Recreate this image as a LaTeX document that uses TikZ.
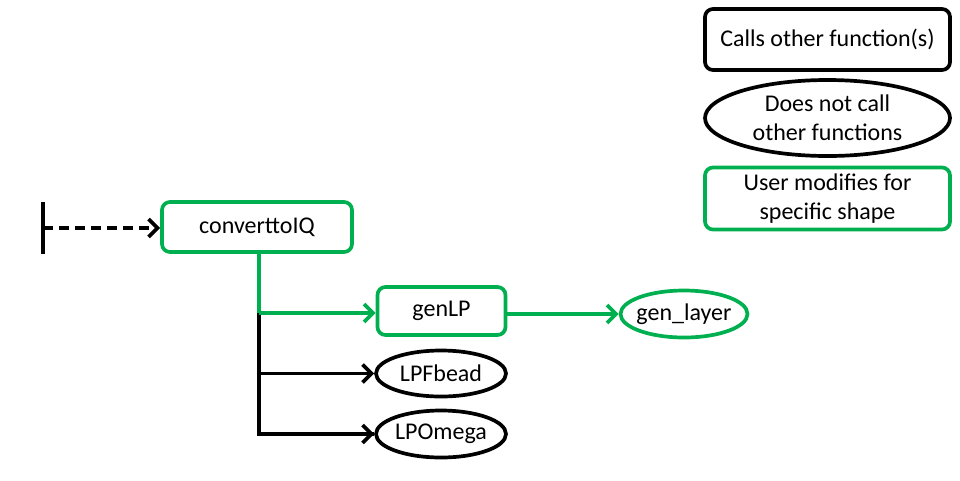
\documentclass[tikz,border=0pt]{standalone}
\usepackage{fontspec}
\setmainfont{Carlito}
\usetikzlibrary{arrows.meta,shapes.geometric}
\definecolor{ogreen}{RGB}{0,176,80}
\begin{document}
\begin{tikzpicture}[x=1pt,y=-1pt,
  font=\fontsize{24}{29}\selectfont,
  lw/.style={line width=3.7pt},
  fbox/.style={draw,lw,rounded corners=8pt,align=center,inner sep=0pt},
  fell/.style={draw,lw,ellipse,inner sep=0pt,label={[align=center,inner sep=0pt]center:#1}},
  tip/.style={-{Straight Barb[length=9pt,width=18pt]}},
  conn/.style={lw,tip},
]
\useasboundingbox (0,0) rectangle (960,480);
% legend
\node[fbox,minimum width=245pt,minimum height=61pt] (l1) at (827.5,39.5) {Calls other function(s)};
\node[fell={Does not call\\other functions},minimum width=245pt,minimum height=76pt] (l2) at (827.5,118) {};
\node[fbox,draw=ogreen,minimum width=245pt,minimum height=62pt] (l3) at (827.5,198.5) {User modifies for\\specific shape};
% main
\node[fbox,draw=ogreen,minimum width=190pt,minimum height=50pt] (conv) at (257,227) {converttoIQ};
\node[fbox,draw=ogreen,minimum width=128pt,minimum height=48pt] (genlp) at (441.5,311) {genLP};
\node[fell={gen\_layer},draw=ogreen,minimum width=127pt,minimum height=47pt] (genlayer) at (684,314) {};
\node[fell={LPFbead},minimum width=130pt,minimum height=46pt] (lpf) at (441,373.5) {};
\node[fell={LPOmega},minimum width=130pt,minimum height=47pt] (lpo) at (441,434) {};
% start
\coordinate (s1) at (43,202);
\coordinate (s2) at (43,254);
\coordinate (sm) at (43,228);
\coordinate (br) at (259,313);
\draw[lw] (s1) -- (s2);
\draw[lw,dash pattern=on 10pt off 6pt,tip] (sm) -- (conv.west |- sm);
% tree
\draw[lw] (br) |- (lpo.west);
\draw[conn] (br |- lpf.west) -- (lpf.west);
\draw[conn] (br |- lpo.west) -- (lpo.west);
\draw[lw,draw=ogreen] (conv.south -| br) -- (br);
\draw[conn,draw=ogreen] (br) -- (genlp.west |- br);
\draw[conn,draw=ogreen] (genlp.east |- genlayer.west) -- (genlayer.west);
\end{tikzpicture}
\end{document}
